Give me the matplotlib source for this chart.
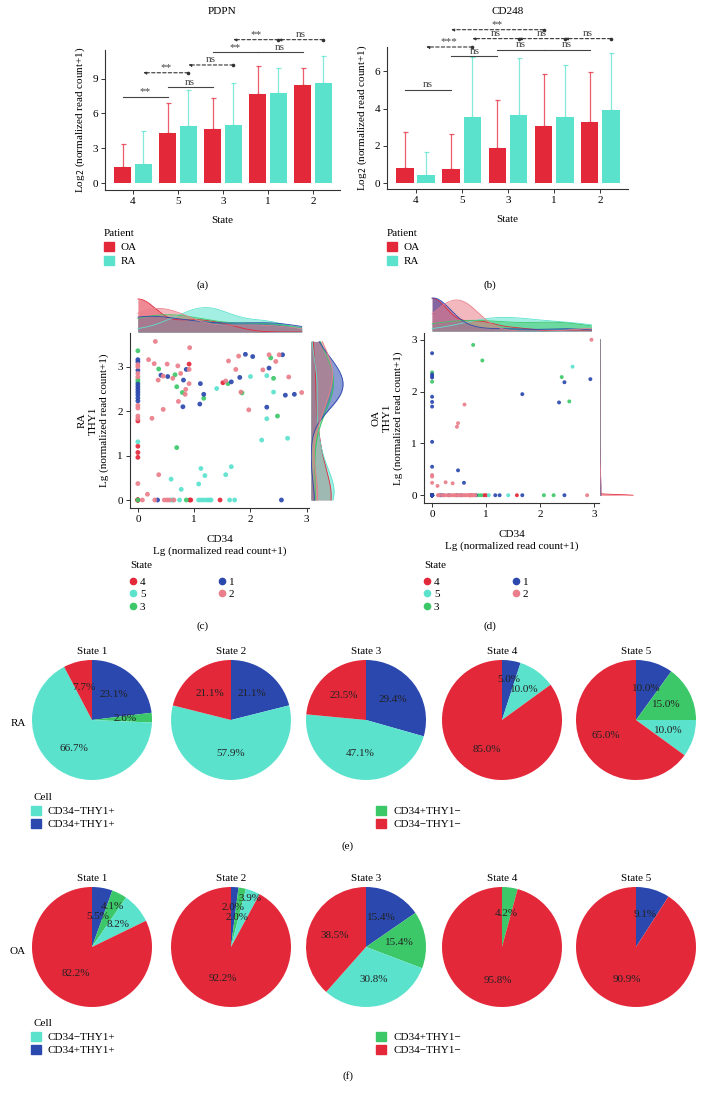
import numpy as np
import matplotlib
matplotlib.use('Agg')
import matplotlib.pyplot as plt
from matplotlib.patches import Patch
from matplotlib.lines import Line2D

plt.rcParams['font.family'] = ['Liberation Serif', 'DejaVu Serif']
plt.rcParams['font.size'] = 8

W, H = 702, 1097

RED = '#E3283A'
TURQ = '#5AE2CD'
GREEN = '#3CC869'
BLUE = '#2B48AE'
PINK = '#EA7E8A'

# ---------------- bar data (a) PDPN, (b) CD248 ----------------
states_order = ['4', '5', '3', '1', '2']
pdpn_oa = [1.35, 4.27, 4.67, 7.65, 8.45]
pdpn_oa_sd = [2.0, 2.63, 2.63, 2.41, 1.46]
pdpn_ra = [1.66, 4.93, 5.04, 7.76, 8.62]
pdpn_ra_sd = [2.84, 3.09, 3.58, 2.18, 2.3]
cd248_oa = [0.81, 0.77, 1.9, 3.08, 3.3]
cd248_oa_sd = [1.93, 1.86, 2.58, 2.8, 2.65]
cd248_ra = [0.41, 3.55, 3.64, 3.55, 3.9]
cd248_ra_sd = [1.26, 3.22, 3.1, 2.78, 3.09]

# (group a, group b, patient, height, label, dashed)
pdpn_sig = [(0, 1, 'OA', 7.45, '**', False), (1, 2, 'OA', 8.25, 'ns', False),
            (2, 3, 'OA', 11.26, '**', False), (3, 4, 'OA', 11.26, 'ns', False),
            (0, 1, 'RA', 9.5, '**', True), (1, 2, 'RA', 10.17, 'ns', True),
            (2, 3, 'RA', 12.35, '**', True), (3, 4, 'RA', 12.35, 'ns', True)]
cd248_sig = [(0, 1, 'OA', 5.02, 'ns', False), (1, 2, 'OA', 6.81, 'ns', False),
             (2, 3, 'OA', 7.17, 'ns', False), (3, 4, 'OA', 7.17, 'ns', False),
             (0, 1, 'RA', 7.31, '***', True), (1, 2, 'RA', 7.76, 'ns', True),
             (2, 3, 'RA', 7.76, 'ns', True), (3, 4, 'RA', 7.76, 'ns', True),
             (1, 3, 'OA', 8.24, '**', True)]

# ---------------- scatter data (c) RA, (d) OA ----------------
# cells sitting exactly on (0, 0) overlap; their counts are guessed from the marginal densities
ra_s1_x = [0, 0, 0, 0, 0, 0, 0, 0, 0, 0, 0.86, 0.41, 0.53, 0.81, 0.80, 1.11, 1.17, 1.10, 1.91, 2.04,
           2.57, 2.33, 1.81, 1.66, 2.62, 2.78, 2.29, 0.35, 2.55]
ra_s1_y = [3.16, 3.11, 2.92, 2.61, 2.55, 2.49, 2.43, 2.37, 2.30, 2.23, 2.94, 2.81, 2.78, 2.70, 2.10, 2.62,
           2.38, 2.16, 3.28, 3.23, 3.27, 2.97, 2.76, 2.66, 2.36, 2.38, 2.09, 0, 0]
ra_s2_x = [0, 0, 0, 0, 0, 0, 0, 0, 0, 0.31, 0.92, 0.19, 0.29, 0.52, 0.71, 0.91, 0.76, 0.45, 0.62, 0.36,
           0.91, 0.85, 0.84, 0.72, 0.45, 0.25, 0.37, 0.17, 1.79, 1.61, 2.33, 2.51, 2.45, 1.74, 2.22, 2.68,
           1.56, 1.83, 2.91, 1.97, 0.08, 0.30, 0.47, 0.52, 0.56, 0.64]
ra_s2_y = [3.05, 3.0, 2.85, 2.77, 2.13, 2.07, 1.89, 1.83, 0.37, 3.57, 3.43, 3.16, 3.07, 3.06, 3.02, 2.94,
           2.85, 2.79, 2.74, 2.70, 2.62, 2.49, 2.38, 2.22, 2.04, 1.84, 0.57, 0.13, 3.24, 3.13, 3.27, 3.27,
           3.12, 2.94, 2.93, 2.77, 2.68, 2.43, 2.42, 2.03, 0, 0, 0, 0, 0, 0]
ra_s3_x = [0, 0, 0, 0, 0.37, 0.66, 0.69, 0.79, 1.17, 0.69, 2.36, 2.41, 1.60, 1.85, 2.48, 0.86]
ra_s3_y = [3.36, 2.71, 2.66, 0, 2.95, 2.82, 2.55, 2.42, 2.29, 1.18, 3.2, 2.74, 2.62, 2.41, 1.89, 0]
ra_s4_x = [0, 0, 0, 0, 0.91, 1.51, 0.92, 0.94, 1.46, 0, 0, 0, 0, 0, 0]
ra_s4_y = [1.78, 1.21, 1.07, 0.96, 3.06, 2.64, 0, 0, 0, 0, 0, 0, 0, 0, 0]
ra_s5_x = [0, 0.59, 0.77, 1.40, 1.12, 1.19, 1.08, 2.0, 2.29, 2.41, 2.29, 2.2, 2.66, 1.66, 1.56,
           0.60, 0.62, 0.74, 1.08, 1.13, 1.18, 1.23, 1.27, 1.30, 1.63, 1.72]
ra_s5_y = [1.31, 0.47, 0.24, 2.51, 0.71, 0.55, 0.36, 2.78, 2.8, 2.43, 1.83, 1.35, 1.39, 0.75, 0.57,
           0, 0, 0, 0, 0, 0, 0, 0, 0, 0, 0]

oa_s1_x = [0, 0, 0, 0, 0, 0, 0, 0, 0, 0, 0.48, 0.59, 1.67, 2.35, 2.45, 2.93,
           0.15, 0.20, 0.31, 0.46, 0.54, 0.81, 1.17, 1.25, 1.67, 2.45] + [0] * 35
oa_s1_y = [2.74, 2.33, 2.30, 2.27, 1.90, 1.80, 1.71, 1.03, 0.55, 0, 0.48, 0.24, 1.95, 1.79, 2.18, 2.24,
           0, 0, 0, 0, 0, 0, 0, 0, 0, 0] + [0] * 35
oa_s2_x = [0, 0, 0, 0.60, 0.48, 0.46, 0.10, 0.25, 0.38, 2.95,
           0.11, 0.26, 0.37, 0.43, 0.49, 0.57, 0.62, 0.68, 0.71, 0.74, 0.77, 2.87,
           0.12, 0.18, 0.22, 0.30, 0.34, 0.40, 0.45, 0.50, 0.55, 0.60, 0.65, 0.70, 0.75, 0.80]
oa_s2_y = [0.39, 0.36, 0.24, 1.75, 1.39, 1.32, 0.18, 0.25, 0.23, 3.0,
           0, 0, 0, 0, 0, 0, 0, 0, 0, 0, 0, 0,
           0, 0, 0, 0, 0, 0, 0, 0, 0, 0, 0, 0, 0, 0]
oa_s3_x = [0, 0, 0.76, 0.93, 2.40, 2.54, 0.86, 0.91, 2.07, 2.25]
oa_s3_y = [2.37, 2.19, 2.90, 2.60, 2.28, 1.81, 0, 0, 0, 0]
oa_s4_x = [0.70, 0.72, 0.96, 1.0, 1.57] + [0] * 12
oa_s4_y = [0, 0, 0, 0, 0] + [0] * 12
oa_s5_x = [2.60, 1.05, 1.41]
oa_s5_y = [2.48, 0, 0]

# ---------------- pie data (e) RA, (f) OA ----------------
pie_states = ['State 1', 'State 2', 'State 3', 'State 4', 'State 5']
ra_pos_pos = [23.1, 21.1, 29.4, 5.0, 10.0]     # CD34+THY1+
ra_pos_neg = [2.6, 0, 0, 0, 15.0]              # CD34+THY1-
ra_neg_pos = [66.7, 57.9, 47.1, 10.0, 10.0]    # CD34-THY1+
ra_neg_neg = [7.7, 21.1, 23.5, 85.0, 65.0]     # CD34-THY1-
oa_pos_pos = [5.5, 2.0, 15.4, 0, 9.1]
oa_pos_neg = [4.1, 2.0, 15.4, 4.2, 0]
oa_neg_pos = [8.2, 3.9, 30.8, 0, 0]
oa_neg_neg = [82.2, 92.2, 38.5, 95.8, 90.9]

# label radius tweaks where small slices crowd together
label_r = {('RA', 3): [0.68, 0.56, 0.62, 0.56],
           ('OA', 0): [0.52, 0.76, 0.58, 0.52], ('OA', 1): [0.66, 0.5, 0.86, 0.55]}

state_col = {'4': RED, '5': TURQ, '3': GREEN, '1': BLUE, '2': PINK}

fig = plt.figure(figsize=(W / 100, H / 100), dpi=100)


def px_axes(x0, y0, x1, y1):
    return fig.add_axes([x0 / W, 1 - y1 / H, (x1 - x0) / W, (y1 - y0) / H])


def ftext(x, y, s, **kw):
    return fig.text(x / W, 1 - y / H, s, **kw)


def style_axes(ax):
    for s in ['top', 'right']:
        ax.spines[s].set_visible(False)
    for s in ['left', 'bottom']:
        ax.spines[s].set_color('#333333')
        ax.spines[s].set_linewidth(0.8)
    ax.tick_params(length=3, width=0.7, color='#333333', pad=2, labelsize=8)


def bar_panel(box, title, oa, oa_sd, ra, ra_sd, sig, ylim, yticks, legx):
    ax = px_axes(*box)
    pos = np.arange(len(states_order))
    off = {'OA': -0.23, 'RA': 0.23}
    ax.bar(pos + off['OA'], oa, 0.38, color=RED, zorder=2)
    ax.bar(pos + off['RA'], ra, 0.38, color=TURQ, zorder=2)
    ax.errorbar(pos + off['OA'], oa, yerr=[np.zeros(5), oa_sd], fmt='none', ecolor=RED,
                alpha=0.75, elinewidth=0.9, capsize=1.8, capthick=0.9, zorder=1)
    ax.errorbar(pos + off['RA'], ra, yerr=[np.zeros(5), ra_sd], fmt='none', ecolor=TURQ,
                alpha=0.75, elinewidth=0.9, capsize=1.8, capthick=0.9, zorder=1)
    for a, b, pat, y, lab, dashed in sig:
        x0, x1 = a + off[pat], b + off[pat]
        if dashed:
            ax.annotate('', xy=(x0, y), xytext=(x1, y), annotation_clip=False,
                        arrowprops=dict(arrowstyle='-|>', ls=(0, (3, 2)), color='#333333', lw=0.8,
                                        shrinkA=0, shrinkB=0, mutation_scale=4))
            ax.plot([x1], [y], 'o', ms=1.6, color='#333333', clip_on=False)
        else:
            ax.plot([x0, x1], [y, y], color='#444444', lw=0.8, clip_on=False)
        ax.text((x0 + x1) / 2, y + (ylim[1] - ylim[0]) * 0.004, lab, ha='center', va='bottom',
                fontsize=8, color='#444444', clip_on=False)
    ax.set_xticks(pos)
    ax.set_xticklabels(states_order)
    ax.set_yticks(yticks)
    ax.set_xlim(-0.62, 4.6)
    ax.set_ylim(*ylim)
    ax.set_xlabel('State', labelpad=7)
    ax.set_ylabel('Log$_2$ (normalized read count+1)', labelpad=4)
    style_axes(ax)
    ftext((box[0] + box[2]) / 2, 11, title, ha='center', va='center')
    ftext(legx, 234, 'Patient', ha='left', va='center')
    handles = [Patch(color=RED, label='OA'), Patch(color=TURQ, label='RA')]
    fig.legend(handles=handles, loc='upper left',
               bbox_to_anchor=(legx / W, 1 - 242 / H), frameon=False,
               handlelength=0.9, handleheight=0.9, handletextpad=0.6, labelspacing=0.3,
               borderpad=0, borderaxespad=0, fontsize=8)
    return ax


bar_panel((105, 50, 340, 190), 'PDPN', pdpn_oa, pdpn_oa_sd, pdpn_ra, pdpn_ra_sd, pdpn_sig,
          (-0.6, 11.46), [0, 3, 6, 9], 104)
bar_panel((387, 47, 628, 189), 'CD248', cd248_oa, cd248_oa_sd, cd248_ra, cd248_ra_sd, cd248_sig,
          (-0.32, 7.31), [0, 2, 4, 6], 387)


def kde(v, grid):
    # gaussian density, Scott-type bandwidth
    v = np.asarray(v, float)
    n = len(v)
    sd = v.std(ddof=1)
    if sd <= 0:
        sd = 0.02
    bw = sd * n ** -0.2
    z = (grid[:, None] - v[None, :]) / bw
    return np.exp(-0.5 * z ** 2).sum(1) / (n * bw * np.sqrt(2 * np.pi))


def joint_panel(main, top, right, xs, ys, xlim, ylim, size, group):
    ax = px_axes(*main)
    order = ['4', '5', '3', '1', '2']
    for st in order:
        ax.scatter(xs[st], ys[st], s=size, color=state_col[st], edgecolors='none', alpha=0.92, zorder=3)
    ax.set_xlim(*xlim)
    ax.set_ylim(*ylim)
    ax.set_xticks([0, 1, 2, 3])
    ax.set_yticks([0, 1, 2, 3])
    ax.set_xlabel('CD34\nLg (normalized read count+1)', labelpad=8, linespacing=1.25)
    ax.set_ylabel(group + '\nTHY1\nLg (normalized read count+1)', labelpad=6, linespacing=1.25)
    style_axes(ax)

    allx = np.concatenate([xs[s] for s in order])
    ally = np.concatenate([ys[s] for s in order])
    gx = np.linspace(allx.min(), allx.max(), 400)
    gy = np.linspace(ally.min(), ally.max(), 400)

    axt = px_axes(*top)
    axr = px_axes(*right)
    mt, mr = 0, 0
    for st in order:
        dx = kde(xs[st], gx)
        dy = kde(ys[st], gy)
        mt, mr = max(mt, dx.max()), max(mr, dy.max())
        axt.fill_between(gx, 0, dx, color=state_col[st], alpha=0.55, lw=0)
        axt.plot(gx, dx, color=state_col[st], lw=0.6)
        axr.fill_betweenx(gy, 0, dy, color=state_col[st], alpha=0.55, lw=0)
        axr.plot(dy, gy, color=state_col[st], lw=0.6)
    axt.set_xlim(*xlim)
    axt.set_ylim(0, mt * 1.03)
    axr.set_ylim(*ylim)
    axr.set_xlim(0, mr * 1.03)
    for a in (axt, axr):
        a.axis('off')

    ftext(main[0], 565, 'State', ha='left', va='center')
    handles = [Line2D([], [], marker='o', ls='none', ms=4.5, color=state_col[s], label=s) for s in order]
    fig.legend(handles=handles, ncol=2, loc='upper left',
               bbox_to_anchor=((main[0]) / W, 1 - 577 / H), frameon=False,
               handlelength=0.6, handletextpad=0.3, labelspacing=0.25, columnspacing=6.6,
               borderpad=0, borderaxespad=0, fontsize=8)


ra_x = {'1': ra_s1_x, '2': ra_s2_x, '3': ra_s3_x, '4': ra_s4_x, '5': ra_s5_x}
ra_y = {'1': ra_s1_y, '2': ra_s2_y, '3': ra_s3_y, '4': ra_s4_y, '5': ra_s5_y}
oa_x = {'1': oa_s1_x, '2': oa_s2_x, '3': oa_s3_x, '4': oa_s4_x, '5': oa_s5_x}
oa_y = {'1': oa_s1_y, '2': oa_s2_y, '3': oa_s3_y, '4': oa_s4_y, '5': oa_s5_y}

joint_panel((130, 333, 309, 508), (130, 298, 309, 332), (311, 333, 344, 508),
            ra_x, ra_y, (-0.14, 3.04), (-0.18, 3.76), 12, 'RA')
joint_panel((424, 333, 599, 503), (424, 297, 599, 331), (600, 333, 634, 503),
            oa_x, oa_y, (-0.15, 3.09), (-0.15, 3.13), 8, 'OA')

# ---------------- pies ----------------
pie_cx = [92, 231, 366, 502, 636]
pie_r = 60
pie_cols = [BLUE, GREEN, TURQ, RED]


def pie_row(cy, rows, group):
    for i, t in enumerate(pie_states):
        ax = px_axes(pie_cx[i] - pie_r, cy - pie_r, pie_cx[i] + pie_r, cy + pie_r)
        vals = [r[i] for r in rows]
        radii = label_r.get((group, i), [0.56] * 4)
        keep = [k for k, v in enumerate(vals) if v > 0]
        v = [vals[k] for k in keep]
        c = [pie_cols[k] for k in keep]
        wedges, _ = ax.pie(v, colors=c, startangle=90, counterclock=False, radius=1,
                           wedgeprops=dict(lw=0))
        for w, k in zip(wedges, keep):
            ang = np.deg2rad((w.theta1 + w.theta2) / 2)
            r = radii[k]
            ax.text(r * np.cos(ang), r * np.sin(ang), '%.1f%%' % vals[k], ha='center', va='center',
                    fontsize=8, color='#222222')
        ax.set_xlim(-1, 1)
        ax.set_ylim(-1, 1)
        ax.set_title(t, fontsize=8, pad=4)
    ftext(18, cy + 4, group, ha='center', va='center')


pie_row(720, [ra_pos_pos, ra_pos_neg, ra_neg_pos, ra_neg_neg], 'RA')
pie_row(947, [oa_pos_pos, oa_pos_neg, oa_neg_pos, oa_neg_neg], 'OA')

cell_handles = [Patch(color=TURQ, label='CD34\u2212THY1+'), Patch(color=BLUE, label='CD34+THY1+'),
                Patch(color=GREEN, label='CD34+THY1\u2212'), Patch(color=RED, label='CD34\u2212THY1\u2212')]
for ytitle in (797, 1023):
    ftext(33, ytitle, 'Cell', ha='left', va='center')
    fig.legend(handles=cell_handles, ncol=2, loc='upper left',
               bbox_to_anchor=(31 / W, 1 - (ytitle + 9) / H), frameon=False,
               handlelength=0.9, handleheight=0.9, handletextpad=0.6, labelspacing=0.22,
               columnspacing=23.5, borderpad=0, borderaxespad=0, fontsize=8)

for lab, x, y in [('(a)', 203, 285), ('(b)', 490, 285), ('(c)', 203, 626), ('(d)', 490, 626),
                  ('(e)', 348, 846), ('(f)', 348, 1076)]:
    ftext(x, y, lab, ha='center', va='center')

fig.savefig('out.png', dpi=100)
